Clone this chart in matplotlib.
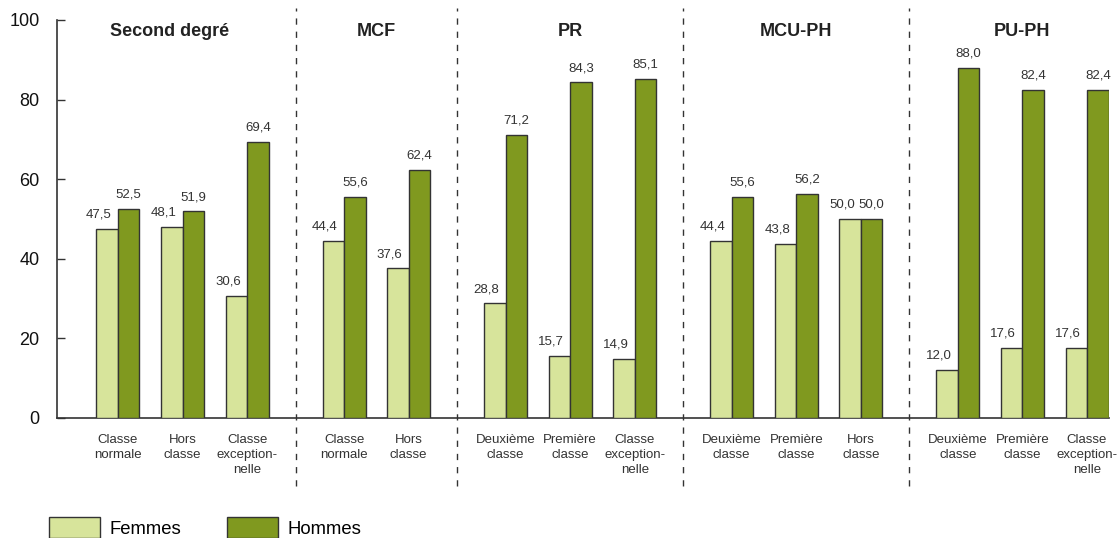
import matplotlib
matplotlib.use("Agg")
import matplotlib.pyplot as plt
from matplotlib.patches import Patch
from matplotlib.transforms import blended_transform_factory

plt.rcParams['font.family'] = ['Liberation Sans', 'DejaVu Sans']

# Corps et grades
groups = ['Second degré', 'MCF', 'PR', 'MCU-PH', 'PU-PH']
grades = [
    ['Classe\nnormale', 'Hors\nclasse', 'Classe\nexception-\nnelle'],
    ['Classe\nnormale', 'Hors\nclasse'],
    ['Deuxième\nclasse', 'Première\nclasse', 'Classe\nexception-\nnelle'],
    ['Deuxième\nclasse', 'Première\nclasse', 'Hors\nclasse'],
    ['Deuxième\nclasse', 'Première\nclasse', 'Classe\nexception-\nnelle'],
]
femmes = [47.5, 48.1, 30.6, 44.4, 37.6, 28.8, 15.7, 14.9,
          44.4, 43.8, 50.0, 12.0, 17.6, 17.6]
hommes = [52.5, 51.9, 69.4, 55.6, 62.4, 71.2, 84.3, 85.1,
          55.6, 56.2, 50.0, 88.0, 82.4, 82.4]

c_f = '#d7e49b'
c_h = '#80991f'
edge = '#333333'
gap = 1.5   # space between two groups, in grade units
w = 0.333

# x position of every grade, plus group centres and separators
xs, centers, seps = [], [], []
pos = 0.0
for gi, g in enumerate(grades):
    start = pos
    for _ in g:
        xs.append(pos)
        pos += 1
    centers.append((start + pos - 1) / 2)
    if gi < len(grades) - 1:
        seps.append(pos - 1 + gap / 2)
        pos += gap - 1
labels = [lab for g in grades for lab in g]

fig = plt.figure(figsize=(11.17, 5.38), dpi=100)
ax = fig.add_axes([57 / 1117, 120 / 538, (1109 - 57) / 1117, 398 / 538])

xf = [x - w / 2 for x in xs]
xh = [x + w / 2 for x in xs]
ax.bar(xf, femmes, width=w, color=c_f, edgecolor=edge, linewidth=1, zorder=3)
ax.bar(xh, hommes, width=w, color=c_h, edgecolor=edge, linewidth=1, zorder=3)

def fmt(v):
    return f'{v:.1f}'.replace('.', ',')

for x, v in zip(xf, femmes):
    ax.annotate(fmt(v), (x, v), xytext=(-6, 6), textcoords='offset points',
                ha='center', va='bottom', fontsize=9.5, color='#333333')
for x, v in zip(xh, hommes):
    ax.annotate(fmt(v), (x, v), xytext=(0, 6), textcoords='offset points',
                ha='center', va='bottom', fontsize=9.5, color='#333333')

# grade names under the axis
for x, lab in zip(xs, labels):
    ax.text(x, -4, lab, ha='center', va='top', fontsize=9.5,
            color='#333333', linespacing=1.33)

# group titles
title_x = [0.8] + centers[1:]
for x, g in zip(title_x, groups):
    ax.text(x, 97, g, ha='center', va='center', fontsize=13,
            fontweight='bold', color='#222222')

# dashed separators between groups
tr = blended_transform_factory(ax.transData, ax.transAxes)
for s in seps:
    ax.plot([s, s], [-0.17, 1.03], transform=tr, color=edge, lw=1,
            dashes=(4.5, 5), clip_on=False)

ax.set_xlim(-0.944, 15.34)
ax.set_ylim(0, 100)
ax.set_xticks([])
ax.set_yticks(range(0, 101, 20))
ax.tick_params(axis='y', direction='in', length=6, width=1, color=edge,
               labelsize=13, pad=12.5, labelcolor='#111111')
for side in ('top', 'right'):
    ax.spines[side].set_visible(False)
for side in ('left', 'bottom'):
    ax.spines[side].set_color(edge)
    ax.spines[side].set_linewidth(1.2)

handles = [Patch(facecolor=c_f, edgecolor=edge, label='Femmes'),
           Patch(facecolor=c_h, edgecolor=edge, label='Hommes')]
fig.legend(handles=handles, loc='lower left', bbox_to_anchor=(49 / 1117, 0),
           ncol=2, frameon=False, fontsize=13.3, handlelength=2.76,
           handleheight=1.35, handletextpad=0.5, columnspacing=2.5,
           borderpad=0, borderaxespad=0)

fig.savefig('out.png', dpi=100)
